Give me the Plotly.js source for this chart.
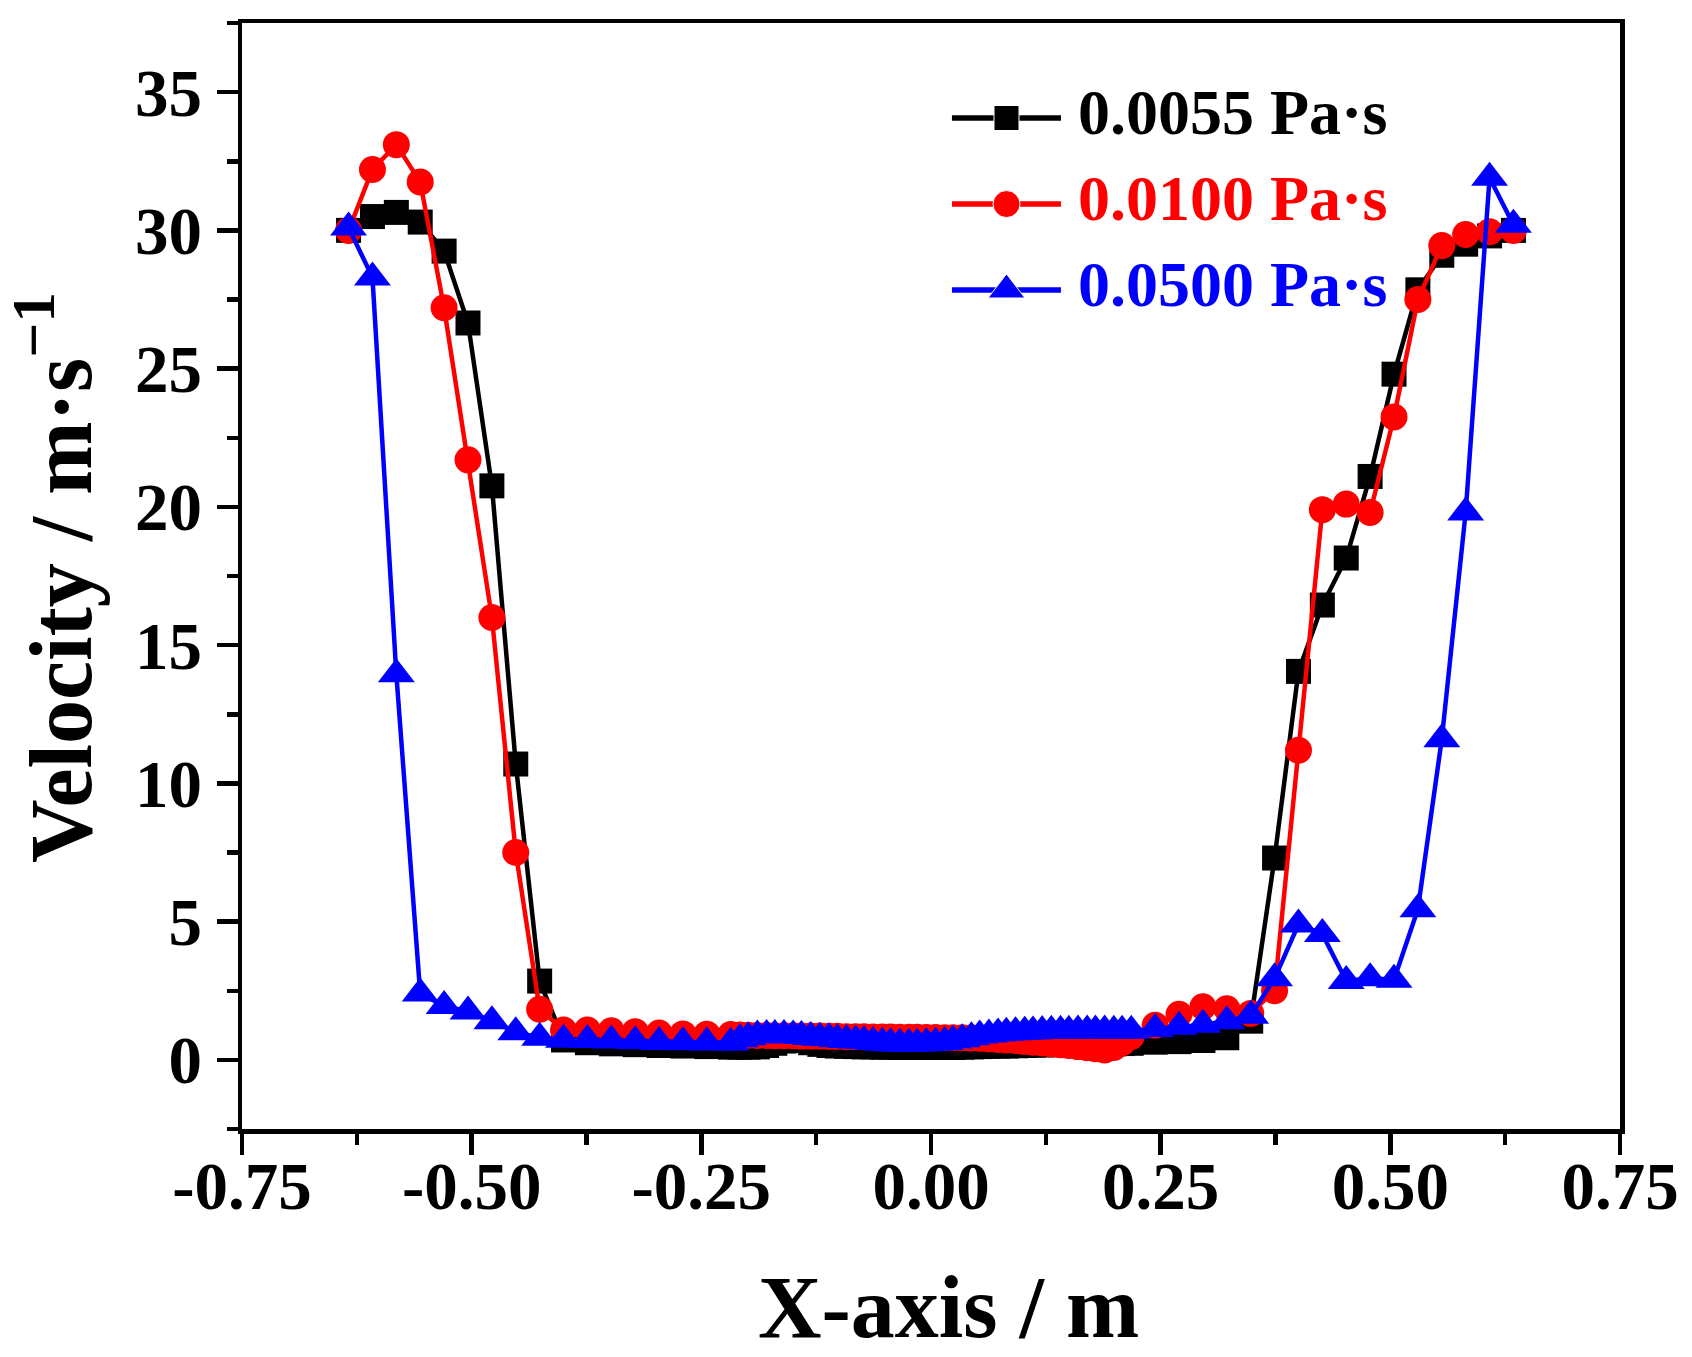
<html><head>
<meta charset="utf-8"/>
<title>Velocity profile</title>
<script src="https://cdn.plot.ly/plotly-3.0.1.min.js"></script>
<style>
    * { margin: 0px; padding: 0px }
    #chart { width: 1692px; height: 1357px; }
</style>
</head><body>
<div id="chart"></div>
<script>
// x positions of the mesh points (shared by all three cases)
var xPos = [
    -0.634, -0.608, -0.582, -0.556, -0.530, -0.504, -0.478, -0.452, -0.426, -0.400,
    -0.374, -0.348, -0.322, -0.296, -0.270, -0.244, -0.218,
    -0.208, -0.199, -0.189, -0.179, -0.170, -0.160, -0.150, -0.141, -0.131, -0.121,
    -0.111, -0.102, -0.092, -0.082, -0.073, -0.063, -0.053, -0.044, -0.034, -0.024,
    -0.015, -0.005, 0.005, 0.015, 0.024, 0.034, 0.044, 0.053, 0.063, 0.073,
    0.082, 0.092, 0.102, 0.111, 0.121, 0.131, 0.141, 0.150, 0.160, 0.170,
    0.179, 0.189, 0.199, 0.208,
    0.218, 0.244, 0.270, 0.296, 0.322, 0.348, 0.374, 0.400, 0.426, 0.452,
    0.478, 0.504, 0.530, 0.556, 0.582, 0.608, 0.634
];

// velocity, 0.0055 Pa·s
var vel0055 = [
    30.0, 30.5, 30.65, 30.3, 29.25, 26.65, 20.76, 10.7, 2.85, 0.72,
    0.62, 0.58, 0.55, 0.52, 0.50, 0.48, 0.46,
    0.46, 0.46, 0.47, 0.52, 0.60, 0.68, 0.72, 0.70, 0.62, 0.56,
    0.52, 0.50, 0.49, 0.48, 0.47, 0.47, 0.46, 0.46, 0.45, 0.45,
    0.45, 0.45, 0.45, 0.45, 0.45, 0.46, 0.47, 0.48, 0.49, 0.50,
    0.50, 0.51, 0.52, 0.53, 0.54, 0.55, 0.55, 0.56, 0.56, 0.57,
    0.57, 0.58, 0.58, 0.59,
    0.60, 0.64, 0.66, 0.70, 0.80, 1.40, 7.30, 14.05, 16.45, 18.15,
    21.1, 24.8, 27.85, 29.1, 29.5, 29.8, 30.0
];

// velocity, 0.0100 Pa·s
var vel0100 = [
    30.0, 32.2, 33.1, 31.75, 27.2, 21.7, 16.0, 7.5, 1.83, 1.08,
    1.08, 1.05, 1.02, 0.97, 0.94, 0.93, 0.92,
    0.90, 0.89, 0.88, 0.88, 0.87, 0.87, 0.87, 0.86, 0.86, 0.86,
    0.85, 0.85, 0.84, 0.84, 0.84, 0.83, 0.83, 0.83, 0.82, 0.82,
    0.82, 0.81, 0.81, 0.80, 0.80, 0.80, 0.79, 0.78, 0.76, 0.74,
    0.72, 0.70, 0.67, 0.64, 0.61, 0.58, 0.55, 0.52, 0.48, 0.44,
    0.40, 0.36, 0.45, 0.62,
    0.85, 1.25, 1.65, 1.92, 1.85, 1.68, 2.5, 11.2, 19.9, 20.1,
    19.8, 23.25, 27.5, 29.45, 29.85, 29.95, 30.0
];

// velocity, 0.0500 Pa·s
var vel0500 = [
    30.1, 28.3, 13.95, 2.4, 1.95, 1.75, 1.4, 1.0, 0.8, 0.73,
    0.72, 0.70, 0.67, 0.65, 0.64, 0.63, 0.62,
    0.75, 0.82, 0.88, 0.90, 0.90, 0.90, 0.88, 0.86, 0.83, 0.80,
    0.78, 0.75, 0.72, 0.70, 0.68, 0.65, 0.62, 0.60, 0.58, 0.58,
    0.58, 0.60, 0.62, 0.65, 0.70, 0.75, 0.82, 0.88, 0.92, 0.95,
    0.98, 1.00, 1.02, 1.03, 1.04, 1.05, 1.05, 1.05, 1.06, 1.06,
    1.06, 1.06, 1.05, 1.05,
    1.05, 1.12, 1.20, 1.27, 1.40, 1.60, 2.95, 4.9, 4.55, 2.85,
    2.95, 2.9, 5.45, 11.6, 19.8, 31.9, 30.2
];

var seriesNames = ['0.0055 Pa·s', '0.0100 Pa·s', '0.0500 Pa·s'];
var seriesColors = ['#000000', '#ff0000', '#0000ff'];
var seriesSymbols = ['square', 'circle', 'triangle-up'];
var seriesSizes = [25, 27, 32];
var seriesValues = [vel0055, vel0100, vel0500];

var xTickVals = [-0.75, -0.5, -0.25, 0, 0.25, 0.5, 0.75];
var xTickText = ['-0.75', '-0.50', '-0.25', '0.00', '0.25', '0.50', '0.75'];
var xMinorVals = [-0.625, -0.375, -0.125, 0.125, 0.375, 0.625];

var FONT = 'Liberation Serif, Times New Roman, serif';

var traces = [];
for (var i = 0; i < seriesValues.length; i++) {
    traces.push({
        x: xPos,
        y: seriesValues[i],
        type: 'scatter',
        mode: 'lines+markers',
        name: seriesNames[i],
        line: {color: seriesColors[i], width: 4.5},
        marker: {symbol: seriesSymbols[i], size: seriesSizes[i], color: seriesColors[i], opacity: 1},
        showlegend: false
    });
}

// hand made legend: a long line with the marker in the middle (overlay axes 0..1)
var legX = [0.5152, 0.5548, 0.5943];
var legY = [0.9141, 0.8363, 0.7586];
var annotations = [];
for (var i = 0; i < seriesNames.length; i++) {
    traces.push({
        x: legX,
        y: [legY[i], legY[i], legY[i]],
        xaxis: 'x2', yaxis: 'y2',
        type: 'scatter',
        mode: 'lines+markers',
        line: {color: seriesColors[i], width: 5.5},
        marker: {symbol: seriesSymbols[i], size: [0, seriesSizes[i], 0], color: seriesColors[i], opacity: 1},
        hoverinfo: 'skip',
        showlegend: false
    });
    annotations.push({
        xref: 'paper', yref: 'paper',
        x: 0.605, y: legY[i] + 0.0054,
        xanchor: 'left', yanchor: 'middle',
        text: seriesNames[i],
        showarrow: false,
        font: {family: FONT, size: 64, color: seriesColors[i], weight: 'bold'}
    });
}

// axis titles
annotations.push({
    xref: 'paper', yref: 'paper', x: 0.513, y: -0.1618,
    xanchor: 'center', yanchor: 'middle',
    text: 'X-axis / m', showarrow: false,
    font: {family: FONT, size: 88, color: '#000', weight: 'bold'}
});
annotations.push({
    xref: 'paper', yref: 'paper', x: -0.1365, y: 0.499,
    xanchor: 'center', yanchor: 'middle', textangle: -90,
    text: 'Velocity / m·s<sup>−1</sup>', showarrow: false,
    font: {family: FONT, size: 88, color: '#000', weight: 'bold'}
});

var layout = {
    width: 1692, height: 1357,
    margin: {l: 242, r: 72, t: 23, b: 228},
    paper_bgcolor: '#ffffff',
    plot_bgcolor: '#ffffff',
    font: {family: FONT, size: 67, color: '#000', weight: 'bold'},
    showlegend: false,
    xaxis: {
        range: [-0.75, 0.75],
        tickmode: 'array', tickvals: xTickVals, ticktext: xTickText,
        ticks: 'outside', ticklen: 21, tickwidth: 4.5, tickcolor: '#000',
        ticklabelstandoff: -26,
        minor: {tickmode: 'array', tickvals: xMinorVals, ticks: 'outside', ticklen: 11, tickwidth: 4.5, tickcolor: '#000'},
        showline: true, mirror: true, linewidth: 4.5, linecolor: '#000',
        showgrid: false, zeroline: false
    },
    yaxis: {
        range: [-2.5, 37.5],
        tick0: 0, dtick: 5,
        ticks: 'outside', ticklen: 21, tickwidth: 4.5, tickcolor: '#000',
        ticklabelstandoff: 1,
        minor: {tick0: 0, dtick: 2.5, ticks: 'outside', ticklen: 11, tickwidth: 4.5, tickcolor: '#000'},
        showline: true, mirror: true, linewidth: 4.5, linecolor: '#000',
        showgrid: false, zeroline: false
    },
    xaxis2: {overlaying: 'x', range: [0, 1], visible: false, fixedrange: true},
    yaxis2: {overlaying: 'y', range: [0, 1], visible: false, fixedrange: true},
    annotations: annotations
};

Plotly.newPlot('chart', traces, layout, {displayModeBar: false, staticPlot: true});
</script>
</body></html>
